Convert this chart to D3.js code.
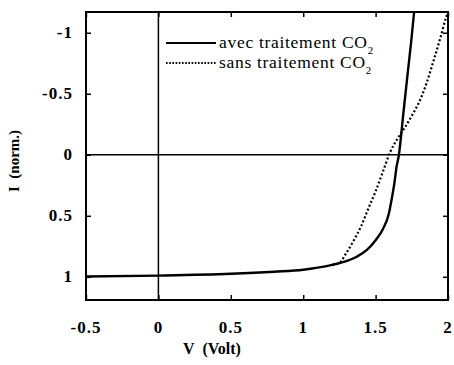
<!DOCTYPE html>
<html>
<head>
<meta charset="utf-8">
<script src="https://cdn.jsdelivr.net/npm/d3@7"></script>
<style>
  html, body { margin: 0; padding: 0; background: #fff; }
  svg { display: block; }
</style>
</head>
<body>
<svg id="chart" width="454" height="365"></svg>
<script>
// Tension (V) and normalised current for the two cells
const avecV = [-0.5, 0.0, 0.5, 0.8, 1.0, 1.1, 1.2, 1.28, 1.37, 1.44, 1.5, 1.55, 1.59, 1.61, 1.63, 1.645, 1.661, 1.673, 1.69, 1.72, 1.745, 1.766];
const avecI = [0.998, 0.99, 0.975, 0.958, 0.942, 0.925, 0.902, 0.878, 0.835, 0.78, 0.70, 0.61, 0.49, 0.37, 0.23, 0.096, 0.0, -0.12, -0.32, -0.65, -0.92, -1.17];

const sansV = [-0.5, 0.0, 0.5, 0.8, 1.0, 1.1, 1.2, 1.25, 1.30, 1.35, 1.40, 1.45, 1.50, 1.55, 1.60, 1.65, 1.70, 1.75, 1.80, 1.85, 1.90, 1.95, 1.985, 2.0];
const sansI = [0.998, 0.99, 0.975, 0.958, 0.942, 0.925, 0.902, 0.885, 0.80, 0.70, 0.585, 0.44, 0.30, 0.14, -0.02, -0.13, -0.22, -0.32, -0.43, -0.58, -0.77, -0.97, -1.12, -1.17];

const xTicks = [-0.5, 0, 0.5, 1, 1.5, 2];
const xTickLabels = ["-0.5", "0", "0.5", "1", "1.5", "2"];
const yTicks = [-1, -0.5, 0, 0.5, 1];
const yTickLabels = ["-1", "-0.5", "0", "0.5", "1"];

const seriesNames = ["avec traitement CO", "sans traitement CO"];

const serif = "'Liberation Serif', 'Times New Roman', 'DejaVu Serif', serif";

const svg = d3.select("#chart").style("font-family", serif);
const plotL = 86, plotR = 448, plotT = 12, plotB = 300;

const x = d3.scaleLinear().domain([-0.5, 2]).range([plotL, plotR]);
const y = d3.scaleLinear().domain([-1.17, 1.19]).range([plotT, plotB]);

const plot = svg.append("g");

plot.append("defs").append("clipPath").attr("id", "clip")
  .append("rect").attr("x", plotL).attr("y", plotT)
  .attr("width", plotR - plotL).attr("height", plotB - plotT);

// zero lines
plot.append("line")
  .attr("x1", plotL).attr("x2", plotR).attr("y1", y(0)).attr("y2", y(0))
  .attr("stroke", "#000").attr("stroke-width", 1.5);
plot.append("line")
  .attr("x1", x(0)).attr("x2", x(0)).attr("y1", plotT).attr("y2", plotB)
  .attr("stroke", "#000").attr("stroke-width", 1.5);

// curves
const line = d3.line().curve(d3.curveMonotoneX);
const sansPts = sansV.map((v, i) => [x(v), y(sansI[i])]);
const avecPts = avecV.map((v, i) => [x(v), y(avecI[i])]);

const curves = plot.append("g").attr("clip-path", "url(#clip)");
curves.append("path")
  .attr("d", line(sansPts.filter((p, i) => sansV[i] >= 1.2)))
  .attr("fill", "none").attr("stroke", "#000")
  .attr("stroke-width", 2.2).attr("stroke-dasharray", "2,2.2");
curves.append("path")
  .attr("d", line(avecPts))
  .attr("fill", "none").attr("stroke", "#000").attr("stroke-width", 2.4);

// axes: inward ticks on all four sides
const tickLen = 5;
svg.append("g").attr("transform", `translate(0,${plotB})`)
  .call(d3.axisBottom(x).tickValues(xTicks).tickSize(-tickLen).tickFormat(""))
  .call(g => g.select(".domain").remove());
svg.append("g").attr("transform", `translate(0,${plotT})`)
  .call(d3.axisTop(x).tickValues(xTicks).tickSize(-tickLen).tickFormat(""))
  .call(g => g.select(".domain").remove());
svg.append("g").attr("transform", `translate(${plotL},0)`)
  .call(d3.axisLeft(y).tickValues(yTicks).tickSize(-tickLen).tickFormat(""))
  .call(g => g.select(".domain").remove());
svg.append("g").attr("transform", `translate(${plotR},0)`)
  .call(d3.axisRight(y).tickValues(yTicks).tickSize(-tickLen).tickFormat(""))
  .call(g => g.select(".domain").remove());
svg.selectAll(".tick line").attr("stroke-width", 1.5);

// frame
svg.append("rect")
  .attr("x", plotL).attr("y", plotT).attr("width", plotR - plotL).attr("height", plotB - plotT)
  .attr("fill", "none").attr("stroke", "#000").attr("stroke-width", 2);

// tick labels
svg.append("g").selectAll("text").data(xTicks).join("text")
  .attr("x", d => x(d)).attr("y", 333)
  .attr("text-anchor", "middle")
  .style("font-family", serif)
  .attr("font-size", 17).attr("font-weight", "bold").style("letter-spacing", "1px")
  .text((d, i) => xTickLabels[i]);
svg.append("g").selectAll("text").data(yTicks).join("text")
  .attr("x", 73).attr("y", d => y(d) + 5)
  .attr("text-anchor", "end")
  .style("font-family", serif)
  .attr("font-size", 17).attr("font-weight", "bold").style("letter-spacing", "1px")
  .text((d, i) => yTickLabels[i]);

// axis titles
svg.append("text")
  .attr("x", 212).attr("y", 354).attr("text-anchor", "middle")
  .style("font-family", serif)
  .attr("font-size", 16).attr("font-weight", "bold")
  .style("white-space", "pre")
  .text("V  (Volt)");
svg.append("text")
  .attr("transform", "translate(19,161) rotate(-90)")
  .attr("text-anchor", "middle")
  .style("font-family", serif)
  .attr("font-size", 15).attr("font-weight", "bold")
  .style("white-space", "pre")
  .text("I  (norm.)");

// legend
const legend = svg.append("g");
const rows = [{ y: 43, dash: null }, { y: 63, dash: "1.6,1.6" }];
rows.forEach((r, i) => {
  legend.append("line")
    .attr("x1", 166).attr("x2", 216).attr("y1", r.y).attr("y2", r.y)
    .attr("stroke", "#000").attr("stroke-width", i === 0 ? 2.2 : 1.8)
    .attr("stroke-dasharray", r.dash);
  const t = legend.append("text")
    .attr("x", 219).attr("y", r.y + 5)
    .style("font-family", serif)
    .style("letter-spacing", "0.7px")
    .attr("font-size", 17.5);
  t.append("tspan").text(seriesNames[i]);
  t.append("tspan").attr("dy", 6).attr("font-size", 11).text("2");
});
</script>
</body>
</html>
